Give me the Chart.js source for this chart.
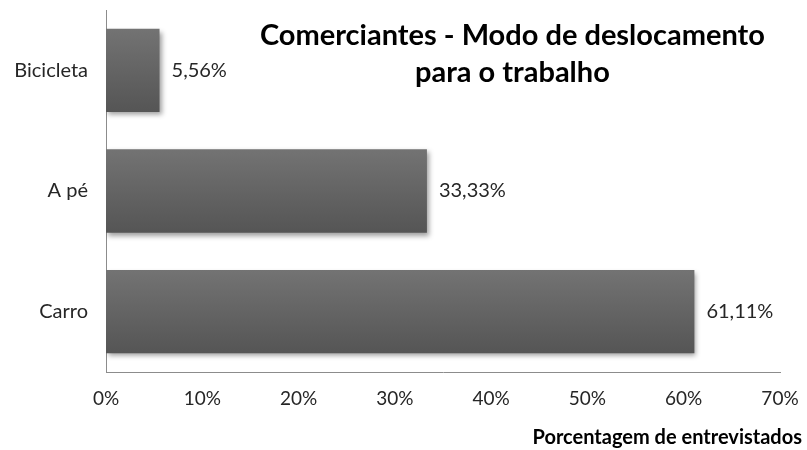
<!DOCTYPE html>
<html>
<head>
<meta charset="utf-8">
<script src="https://cdn.jsdelivr.net/npm/chart.js@4/dist/chart.umd.min.js"></script>
<style>
  html, body { margin: 0; padding: 0; background: #ffffff; }
  #wrap { width: 807px; height: 450px; }
</style>
</head>
<body>
<div id="wrap"><canvas id="c" width="807" height="450"></canvas></div>
<script>
// Modes of commuting to work, share of interviewed merchants (%)
const categories = ['Bicicleta', 'A pé', 'Carro'];
const shares = [5.56, 33.33, 61.11];
const xTicks = [0, 10, 20, 30, 40, 50, 60, 70];
const titleLines = ['Comerciantes - Modo de deslocamento', 'para o trabalho'];
const xAxisTitle = 'Porcentagem de entrevistados';

const FONT = 'Lato, "Open Sans", sans-serif';
const BAR_PCT = 0.69;

const fmt = v => v.toFixed(2).replace('.', ',') + '%';

// vertical grey gradient for each bar
function barFill(ctx) {
  const chart = ctx.chart;
  const y = chart.scales.y;
  if (!chart.chartArea || !y) return '#616161';
  const band = (chart.chartArea.bottom - chart.chartArea.top) / categories.length;
  const c = y.getPixelForValue(ctx.dataIndex);
  const h = band * BAR_PCT;
  const g = chart.ctx.createLinearGradient(0, c - h / 2, 0, c + h / 2);
  g.addColorStop(0, '#737373');
  g.addColorStop(1, '#555555');
  return g;
}

const shadowPlugin = {
  id: 'barShadow',
  beforeDatasetsDraw(chart) {
    const ctx = chart.ctx;
    ctx.save();
    ctx.shadowColor = 'rgba(0,0,0,0.38)';
    ctx.shadowBlur = 5;
    ctx.shadowOffsetX = 2;
    ctx.shadowOffsetY = 3;
  },
  afterDatasetsDraw(chart) {
    chart.ctx.restore();
  }
};

const labelPlugin = {
  id: 'valueLabels',
  afterDatasetsDraw(chart) {
    const ctx = chart.ctx;
    const meta = chart.getDatasetMeta(0);
    ctx.save();
    ctx.font = '20px ' + FONT;
    ctx.fillStyle = '#262626';
    ctx.textAlign = 'left';
    ctx.textBaseline = 'middle';
    meta.data.forEach((bar, i) => {
      ctx.fillText(fmt(shares[i]), bar.x + 12, bar.y);
    });
    ctx.restore();
  }
};

const textPlugin = {
  id: 'titles',
  afterDraw(chart) {
    const ctx = chart.ctx;
    const a = chart.chartArea;
    ctx.save();
    ctx.fillStyle = '#000000';
    ctx.textAlign = 'center';
    ctx.textBaseline = 'middle';
    ctx.font = 'bold 29px ' + FONT;
    const cx = a.left + (a.right - a.left) * 0.603;
    titleLines.forEach((t, i) => ctx.fillText(t, cx, a.top + 26 + i * 37));
    ctx.font = 'bold 20px ' + FONT;
    ctx.textAlign = 'right';
    ctx.fillText(xAxisTitle, chart.width - 5, chart.height - 12);
    ctx.restore();
  }
};

new Chart(document.getElementById('c'), {
  type: 'bar',
  data: {
    labels: categories,
    datasets: [{
      data: shares,
      backgroundColor: barFill,
      borderWidth: 0,
      categoryPercentage: 1,
      barPercentage: BAR_PCT
    }]
  },
  options: {
    indexAxis: 'y',
    responsive: false,
    animation: false,
    layout: { padding: { top: 10, right: 27, left: 0, bottom: 0 } },
    plugins: { legend: { display: false }, tooltip: { enabled: false }, title: { display: false } },
    scales: {
      x: {
        min: 0, max: 70,
        afterBuildTicks(scale) { scale.ticks = xTicks.map(v => ({ value: v })); },
        afterFit(scale) { scale.height = 78; scale.paddingLeft = 0; scale.paddingRight = 0; },
        grid: { display: false, drawTicks: false },
        border: { display: true, color: '#8c8c8c', width: 1 },
        ticks: { callback: v => v + '%', padding: 15, color: '#262626', font: { family: FONT, size: 19 }, maxRotation: 0 }
      },
      y: {
        afterFit(scale) { scale.width = 106; scale.paddingTop = 0; scale.paddingBottom = 0; },
        grid: { display: false, drawTicks: false },
        border: { display: true, color: '#8c8c8c', width: 1 },
        ticks: { padding: 18, color: '#262626', font: { family: FONT, size: 20 } }
      }
    }
  },
  plugins: [shadowPlugin, labelPlugin, textPlugin]
});
</script>
</body>
</html>
